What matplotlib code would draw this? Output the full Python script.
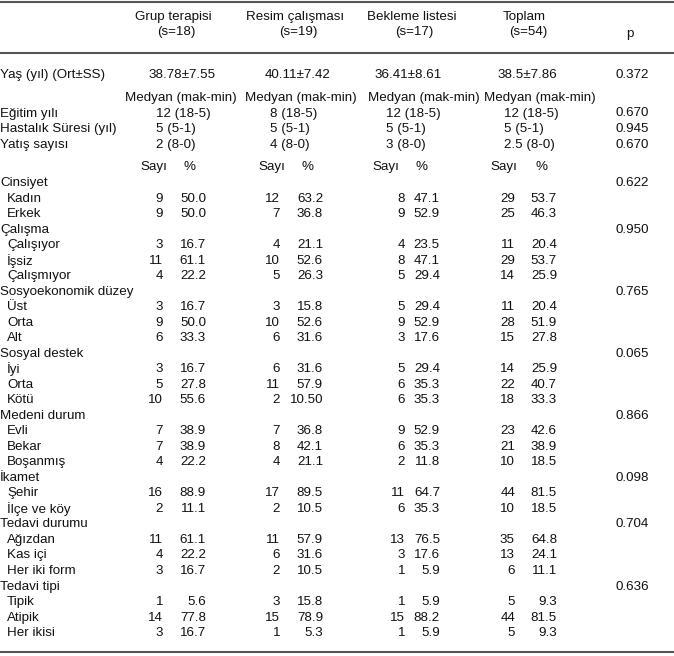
import matplotlib.pyplot as plt

plt.rcParams['font.family'] = ['Liberation Sans', 'DejaVu Sans']

# %%
# Table content
# -------------

group_names = ['Grup terapisi', 'Resim çalışması', 'Bekleme listesi', 'Toplam']
group_sizes = ['(s=18)', '(s=19)', '(s=17)', '(s=54)']

age_label = 'Yaş (yıl) (Ort±SS)'
age_values = ['38.78±7.55', '40.11±7.42', '36.41±8.61', '38.5±7.86']
age_p = '0.372'

median_labels = ['Eğitim yılı', 'Hastalık Süresi (yıl)', 'Yatış sayısı']
median_grup = ['12 (18-5)', '5 (5-1)', '2 (8-0)']
median_resim = ['8 (18-5)', '5 (5-1)', '4 (8-0)']
median_bekleme = ['12 (18-5)', '5 (5-1)', '3 (8-0)']
median_toplam = ['12 (18-5)', '5 (5-1)', '2.5 (8-0)']
median_p = ['0.670', '0.945', '0.670']

sections = ['Cinsiyet', 'Çalışma', 'Sosyoekonomik düzey', 'Sosyal destek',
            'Medeni durum', 'İkamet', 'Tedavi durumu', 'Tedavi tipi']
section_p = ['0.622', '0.950', '0.765', '0.065', '0.866', '0.098', '0.704', '0.636']
levels = [['Kadın', 'Erkek'],
          ['Çalışıyor', 'İşsiz', 'Çalışmıyor'],
          ['Üst', 'Orta', 'Alt'],
          ['İyi', 'Orta', 'Kötü'],
          ['Evli', 'Bekar', 'Boşanmış'],
          ['Şehir', 'İlçe ve köy'],
          ['Ağızdan', 'Kas içi', 'Her iki form'],
          ['Tipik', 'Atipik', 'Her ikisi']]

n_grup = [9, 9, 3, 11, 4, 3, 9, 6, 3, 5, 10, 7, 7, 4, 16, 2, 11, 4, 3, 1, 14, 3]
pct_grup = ['50.0', '50.0', '16.7', '61.1', '22.2', '16.7', '50.0', '33.3', '16.7', '27.8', '55.6',
            '38.9', '38.9', '22.2', '88.9', '11.1', '61.1', '22.2', '16.7', '5.6', '77.8', '16.7']
n_resim = [12, 7, 4, 10, 5, 3, 10, 6, 6, 11, 2, 7, 8, 4, 17, 2, 11, 6, 2, 3, 15, 1]
pct_resim = ['63.2', '36.8', '21.1', '52.6', '26.3', '15.8', '52.6', '31.6', '31.6', '57.9', '10.50',
             '36.8', '42.1', '21.1', '89.5', '10.5', '57.9', '31.6', '10.5', '15.8', '78.9', '5.3']
n_bekleme = [8, 9, 4, 8, 5, 5, 9, 3, 5, 6, 6, 9, 6, 2, 11, 6, 13, 3, 1, 1, 15, 1]
pct_bekleme = ['47.1', '52.9', '23.5', '47.1', '29.4', '29.4', '52.9', '17.6', '29.4', '35.3', '35.3',
               '52.9', '35.3', '11.8', '64.7', '35.3', '76.5', '17.6', '5.9', '5.9', '88.2', '5.9']
n_toplam = [29, 25, 11, 29, 14, 11, 28, 15, 14, 22, 18, 23, 21, 10, 44, 10, 35, 13, 6, 5, 44, 5]
pct_toplam = ['53.7', '46.3', '20.4', '53.7', '25.9', '20.4', '51.9', '27.8', '25.9', '40.7', '33.3',
              '42.6', '38.9', '18.5', '81.5', '18.5', '64.8', '24.1', '11.1', '9.3', '81.5', '9.3']

# %%
# Layout (pixel coordinates)
# --------------------------

W, H = 674, 656
fs = 9.6
col_head1 = [173, 295, 412, 524]
col_head2 = [176, 298, 414, 528]
col_age = [182, 298, 408, 527]
col_medhead = [125, 245, 368, 484]
col_med = [156, 270, 386, 504]
col_n = [163, 280, 405, 515]
col_pct = [206, 323, 440, 557]
col_sayi = [167, 285, 399, 517]
col_pcthead = [189, 307, 422, 542]
x_p = 649

fig = plt.figure(figsize=(W / 100, H / 100), dpi=100)
ax = fig.add_axes([0, 0, 1, 1])
ax.set_xlim(0, W)
ax.set_ylim(H, 0)
ax.axis('off')

def txt(x, y, s, ha='left'):
    ax.text(x, y, s, ha=ha, va='center', fontsize=fs, color='#111111')

# rules
for y in [1.5, 52.5, 652]:
    ax.axhline(y, color='#555555', lw=1.5)

# header
for i in range(4):
    txt(col_head1[i], 17, group_names[i], 'center')
    txt(col_head2[i], 32, group_sizes[i], 'center')
txt(630, 34, 'p', 'center')

# age
txt(0, 75, age_label)
for i in range(4):
    txt(col_age[i], 75, age_values[i], 'center')
txt(x_p, 75, age_p, 'right')

# medians
medians = [median_grup, median_resim, median_bekleme, median_toplam]
for i in range(4):
    txt(col_medhead[i], 98, 'Medyan (mak-min)')
y = 113.5
for r, lab in enumerate(median_labels):
    txt(0, y, lab)
    for i in range(4):
        txt(col_med[i], y, medians[i][r])
    txt(x_p, y, median_p[r], 'right')
    y += 15.7

# counts header
for i in range(4):
    txt(col_sayi[i], 167, 'Sayı', 'right')
    txt(col_pcthead[i], 167, '%', 'center')

# categorical rows
counts = [n_grup, n_resim, n_bekleme, n_toplam]
pcts = [pct_grup, pct_resim, pct_bekleme, pct_toplam]
y = 183
k = 0
step = 15.52
for s, sec in enumerate(sections):
    txt(0, y, sec)
    txt(x_p, y, section_p[s], 'right')
    y += step
    for lev in levels[s]:
        txt(7, y, lev)
        for i in range(4):
            txt(col_n[i], y, str(counts[i][k]), 'right')
            txt(col_pct[i], y, pcts[i][k], 'right')
        k += 1
        y += step

fig.savefig('out.png', dpi=100)
